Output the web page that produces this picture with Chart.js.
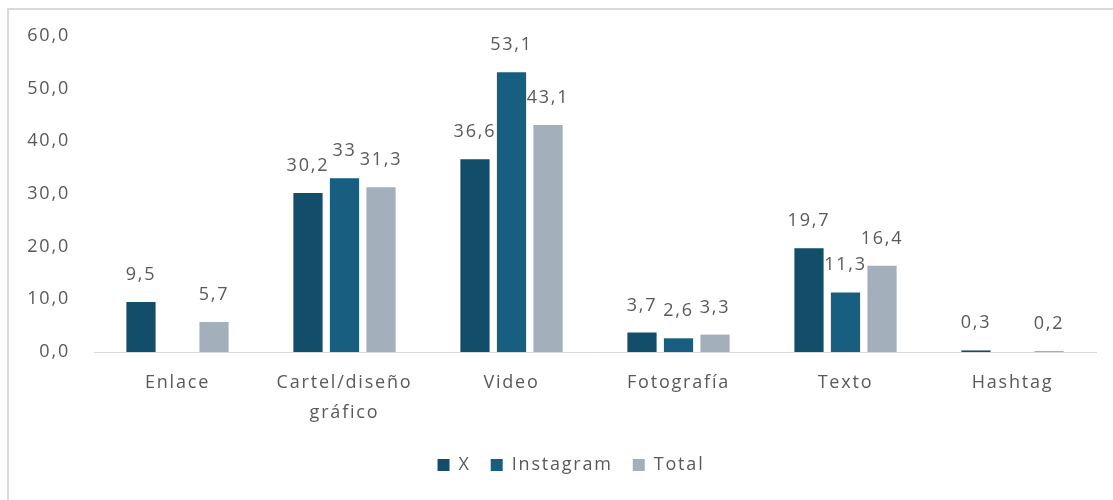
<!DOCTYPE html>
<html>
<head>
<meta charset="utf-8">
<script src="https://cdn.jsdelivr.net/npm/chart.js@4"></script>
<style>
  html, body { margin: 0; padding: 0; background: #fff; overflow: hidden; }
  #wrap { position: absolute; left: 0; top: 0; width: 1113px; height: 500px; }
  #frame { position: absolute; left: 7px; top: 8px; width: 1200px; height: 600px;
           border-left: 2px solid #d9d9d9; border-top: 2px solid #d9d9d9; box-sizing: border-box; }
  canvas { position: absolute; left: 0; top: 0; }
</style>
</head>
<body>
<div id="wrap">
  <div id="frame"></div>
  <canvas id="c" width="1113" height="500"></canvas>
</div>
<script>
const categories = ['Enlace', ['Cartel/diseño', 'gráfico'], 'Video', 'Fotografía', 'Texto', 'Hashtag'];
const seriesNames = ['X', 'Instagram', 'Total'];
const valuesX = [9.5, 30.2, 36.6, 3.7, 19.7, 0.3];
const valuesInstagram = [null, 33, 53.1, 2.6, 11.3, null];
const valuesTotal = [5.7, 31.3, 43.1, 3.3, 16.4, 0.2];
const yTicks = [0, 10, 20, 30, 40, 50, 60];

const colors = ['#124d69', '#175e80', '#a3b0bc'];
const textColor = '#595959';
const FONT = "'Open Sans', 'Noto Sans', sans-serif";
const SPACING = '1.8px';

const fmt = v => String(v).replace('.', ',');

const spacingPlugin = {
  id: 'spacing',
  beforeInit(chart) { chart.ctx.letterSpacing = SPACING; },
  beforeUpdate(chart) { chart.ctx.letterSpacing = SPACING; },
  beforeDraw(chart) { chart.ctx.letterSpacing = SPACING; },
  afterLayout(chart) {
    if (chart.legend) { chart.legend.left += 46; }
  }
};

const labelPlugin = {
  id: 'valueLabels',
  afterDatasetsDraw(chart) {
    const ctx = chart.ctx;
    ctx.save();
    ctx.letterSpacing = SPACING;
    ctx.font = '18px ' + FONT;
    ctx.fillStyle = textColor;
    ctx.textAlign = 'center';
    ctx.textBaseline = 'alphabetic';
    chart.data.datasets.forEach((ds, i) => {
      const meta = chart.getDatasetMeta(i);
      meta.data.forEach((bar, j) => {
        const v = ds.data[j];
        if (v === null || v === undefined) return;
        ctx.fillText(fmt(v), bar.x, bar.y - 22);
      });
    });
    ctx.restore();
  }
};

new Chart(document.getElementById('c'), {
  type: 'bar',
  data: {
    labels: categories,
    datasets: [
      { label: seriesNames[0], data: valuesX, backgroundColor: colors[0] },
      { label: seriesNames[1], data: valuesInstagram, backgroundColor: colors[1] },
      { label: seriesNames[2], data: valuesTotal, backgroundColor: colors[2] }
    ]
  },
  options: {
    responsive: false,
    animation: false,
    devicePixelRatio: 1,
    datasets: { bar: { categoryPercentage: 0.656, barPercentage: 0.8 } },
    layout: { padding: { top: 36, left: 0, right: 17, bottom: 16 } },
    plugins: {
      legend: {
        position: 'bottom',
        labels: {
          boxWidth: 12, boxHeight: 12, padding: 20,
          color: textColor,
          font: { family: FONT, size: 18 }
        }
      },
      tooltip: { enabled: false }
    },
    scales: {
      x: {
        grid: { display: false, drawTicks: false },
        border: { display: true, color: '#d9d9d9', width: 1 },
        ticks: { color: textColor, padding: 16, maxRotation: 0, autoSkip: false,
                 font: { family: FONT, size: 18, lineHeight: 1.65 } },
        afterFit(scale) { scale.height = 84; }
      },
      y: {
        min: 0, max: 60,
        grid: { display: false, drawTicks: false },
        border: { display: false },
        afterBuildTicks(scale) { scale.ticks = yTicks.map(v => ({ value: v })); },
        ticks: {
          color: textColor, padding: 24,
          font: { family: FONT, size: 18 },
          callback: v => v.toFixed(1).replace('.', ',')
        },
        afterFit(scale) { scale.width = 94; }
      }
    }
  },
  plugins: [spacingPlugin, labelPlugin]
});
</script>
</body>
</html>
